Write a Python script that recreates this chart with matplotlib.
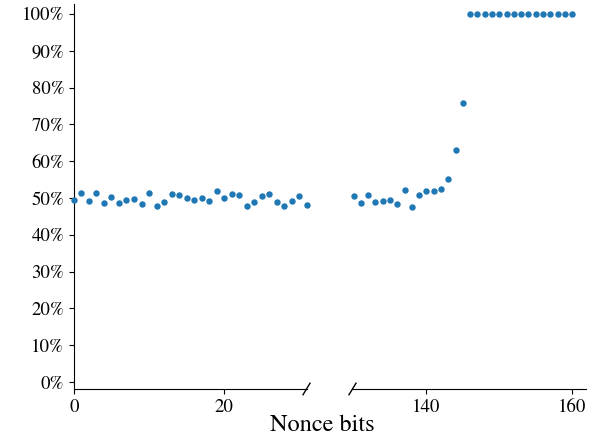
import matplotlib
matplotlib.use("Agg")
import matplotlib.pyplot as plt
from matplotlib.ticker import FuncFormatter

plt.rcParams['font.family'] = ['STIXGeneral', 'DejaVu Serif']
plt.rcParams['mathtext.fontset'] = 'stix'

# success rate (%) per nonce bit, left segment 0..31
bits_left = list(range(0, 32))
rate_left = [49.5, 51.3, 49.2, 51.3, 48.6, 50.3, 48.6, 49.4, 49.8, 48.4,
             51.3, 47.9, 48.9, 51.1, 50.7, 50.1, 49.5, 50.1, 49.1, 52.0,
             50.1, 51.0, 50.8, 47.8, 49.0, 50.4, 51.0, 49.0, 47.8, 49.3,
             50.4, 48.1]

# right segment 130..160
bits_right = list(range(130, 161))
rate_right = [50.6, 48.7, 50.8, 49.0, 49.2, 49.5, 48.3, 52.1, 47.6, 50.8,
              51.9, 51.9, 52.4, 55.1, 63.0, 75.7,
              100, 100, 100, 100, 100, 100, 100, 100, 100, 100,
              100, 100, 100, 100, 100]

color = '#1f77b4'

fig = plt.figure(figsize=(6.04, 4.4), dpi=100)
ax1 = fig.add_axes([0.1225, 0.116, 0.385, 0.875])
ax2 = fig.add_axes([0.5836, 0.116, 0.3866, 0.875], sharey=ax1)

ax1.plot(bits_left, rate_left, 'o', color=color, ms=3.6, clip_on=False, zorder=3)
ax2.plot(bits_right, rate_right, 'o', color=color, ms=3.6, clip_on=False, zorder=3)

ax1.set_xlim(0, 31)
ax2.set_xlim(129.85, 161.9)
ax1.set_ylim(-1.9, 102.7)

ax1.set_xticks([0, 20])
ax2.set_xticks([140, 160])
ax1.set_yticks(range(0, 101, 10))
ax1.yaxis.set_major_formatter(FuncFormatter(lambda v, p: f'{v:.0f}%'))

for ax in (ax1, ax2):
    ax.spines['top'].set_visible(False)
    ax.spines['right'].set_visible(False)
    ax.tick_params(labelsize=13.5)
ax2.spines['left'].set_visible(False)
ax2.tick_params(axis='y', left=False, labelleft=False)

# break marks
dx, dy = 0.015, 0.015
kw = dict(color='k', lw=1, clip_on=False)
ax1.plot([1 - dx, 1 + dx], [-dy, dy], transform=ax1.transAxes, **kw)
ax2.plot([-dx, dx], [-dy, dy], transform=ax2.transAxes, **kw)

fig.text(0.533, 0.034, 'Nonce bits', ha='center', va='center', fontsize=17.5)

fig.savefig('out.png', dpi=100)
